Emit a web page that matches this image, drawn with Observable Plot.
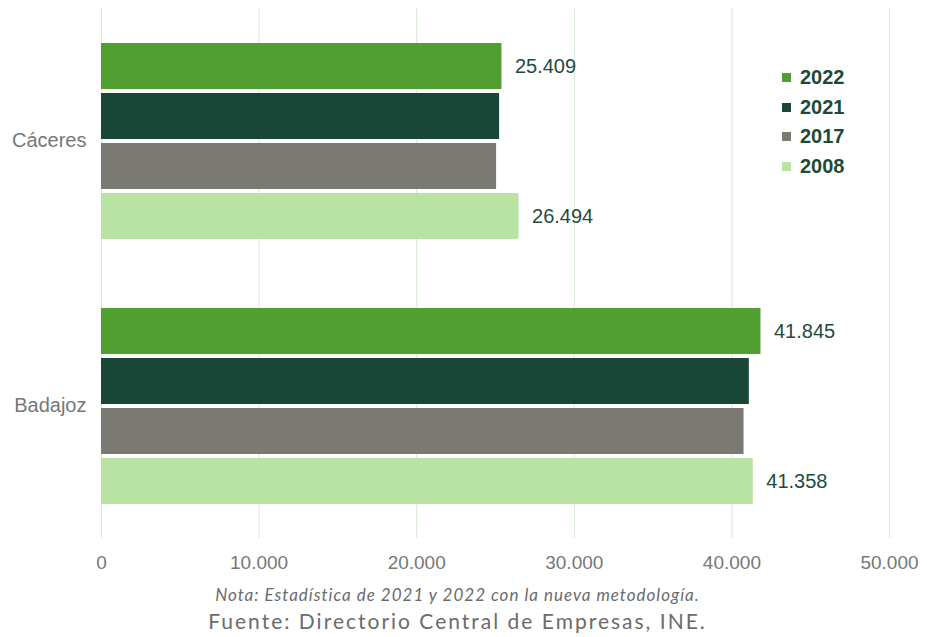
<!DOCTYPE html>
<html>
<head>
<meta charset="utf-8">
<script src="https://cdn.jsdelivr.net/npm/d3@7"></script>
<script src="https://cdn.jsdelivr.net/npm/@observablehq/plot@0.6"></script>
<style>
  body { margin: 0; background: #fff; width: 927px; height: 637px; overflow: hidden; }
  #wrap { position: relative; width: 927px; }
  #legend { position: absolute; left: 782px; top: 63px; font-family: "Liberation Sans", Arial, sans-serif; }
  .row { display: flex; align-items: center; height: 29.5px; }
  .sw { width: 9px; height: 9px; margin-right: 9px; }
  .lab { font-weight: bold; font-size: 20px; color: #1d4a37; }
  .cap { text-align: center; color: #6b6b6b; font-family: Lato, "Open Sans", sans-serif; padding-right: 12px; }
  #nota { font-style: italic; font-size: 17px; letter-spacing: 1px; line-height: 26px; margin-top: 2px; }
  #fuente { font-size: 21px; letter-spacing: 2px; line-height: 26px; }
  g[aria-label^="fy-axis"] text { font-size: 20px; }
</style>
</head>
<body>
<div id="wrap"><div id="chart"></div><div id="legend"></div></div>
<div class="cap" id="nota">Nota: Estadística de 2021 y 2022 con la nueva metodología.</div>
<div class="cap" id="fuente">Fuente: Directorio Central de Empresas, INE.</div>
<script>
const provinces = ["Cáceres", "Badajoz"];
const years = ["2022", "2021", "2017", "2008"];
const caceres = [25409, 25260, 25070, 26494];
const badajoz = [41845, 41105, 40770, 41358];
const labeledYears = ["2022", "2008"];
const colors = ["#519e31", "#184737", "#7a7a72", "#b8e3a3"];
const xTicks = [0, 10000, 20000, 30000, 40000, 50000];

const series = {"Cáceres": caceres, "Badajoz": badajoz};
const data = provinces.flatMap(p => years.map((y, i) => ({province: p, year: y, value: series[p][i]})));
const fmt = v => d3.format(",")(v).replace(/,/g, ".");

const chart = Plot.plot({
  width: 927,
  height: 580,
  marginLeft: 101,
  marginRight: 38,
  marginTop: 8,
  marginBottom: 42,
  style: {fontFamily: "'Liberation Sans', Arial, sans-serif", fontSize: "19px", color: "#777", background: "#fff"},
  facet: {data: data, y: "province"},
  fy: {domain: provinces, padding: 0, axis: "left", label: null, tickSize: 0, tickPadding: 15},
  x: {domain: [0, 50000], ticks: 5, tickFormat: fmt, tickSize: 0, tickPadding: 17, label: null},
  y: {domain: years, axis: null, paddingInner: 0.08, paddingOuter: 0.68},
  color: {domain: years, range: colors},
  marks: [
    Plot.ruleX(xTicks, {stroke: "#d6e9d2", strokeWidth: 1}),
    Plot.barX(data, {x: "value", y: "year", fill: "year"}),
    Plot.text(data, {filter: d => labeledYears.includes(d.year), x: "value", y: "year", text: d => fmt(d.value),
      textAnchor: "start", dx: 13, fill: "#1f4b3b", fontSize: 20})
  ]
});
document.getElementById("chart").appendChild(chart);

const legend = document.getElementById("legend");
years.forEach((y, i) => {
  const row = document.createElement("div");
  row.className = "row";
  row.innerHTML = `<div class="sw" style="background:${colors[i]}"></div><div class="lab">${y}</div>`;
  legend.appendChild(row);
});
</script>
</body>
</html>
